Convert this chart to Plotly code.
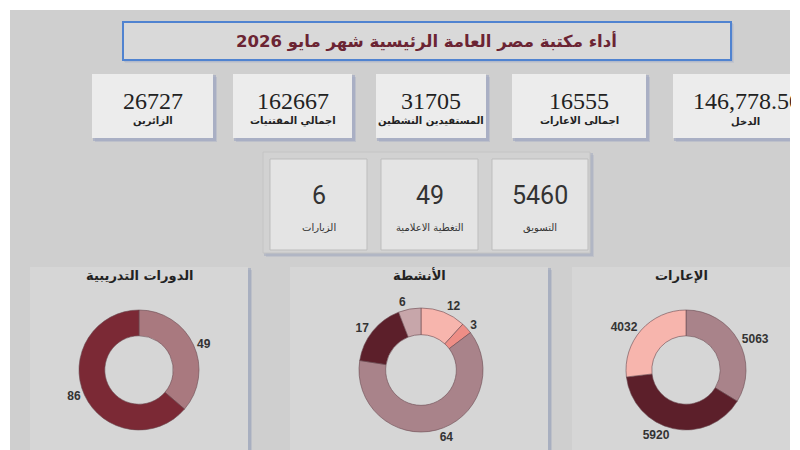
import plotly.graph_objects as go

# ---------------- data ----------------
title_text = "أداء مكتبة مصر العامة الرئيسية شهر مايو 2026"

kpi_labels = ["الزائرين", "اجمالي المقتنيات", "المستفيدين النشطين", "اجمالى الاعارات", "الدخل"]
kpi_values = [26727, 162667, 31705, 16555, 146778.50]

kpi2_labels = ["الزيارات", "التغطية الاعلامية", "التسويق"]
kpi2_values = [6, 49, 5460]

training_title = "الدورات التدريبية"
training_values = [49, 86]

activities_title = "الأنشطة"
activities_values = [12, 3, 64, 17, 6]

loans_title = "الإعارات"
loans_values = [5063, 5920, 4032]

# ---------------- helpers ----------------
W, H = 800, 450


def X(px):
    return px / W


def Y(py):
    return 1 - py / H


shapes = []
annotations = []


def rect(x0, y0, x1, y1, fill, line_color=None, line_width=0, opacity=1, layer="below"):
    shapes.append(dict(type="rect", xref="paper", yref="paper",
                       x0=X(x0), x1=X(x1), y0=Y(y1), y1=Y(y0),
                       fillcolor=fill, opacity=opacity, layer=layer,
                       line=dict(color=line_color or fill, width=line_width)))


def shadow_box(x0, y0, x1, y1, fill, line_color=None, line_width=0, sh="#9aa3bb", off=3):
    rect(x0 + off, y0 + off, x1 + off + 1, y1 + off + 1, sh, opacity=0.35)
    rect(x0 + 1, y0 + 1, x1 + off, y1 + off, sh, opacity=0.6)
    rect(x0, y0, x1, y1, fill, line_color, line_width)


def text(px, py, s, size, color="#222", family="Arial", bold=False, **kw):
    if bold:
        s = "<b>" + s + "</b>"
    annotations.append(dict(xref="paper", yref="paper", x=X(px), y=Y(py), text=s,
                            showarrow=False, font=dict(size=size, color=color, family=family),
                            xanchor=kw.pop("xanchor", "center"), yanchor="middle", **kw))


# title box
shadow_box(123, 22, 731, 60, "#d9d9d9", "#5083d0", 2, sh="#a8b2c8", off=2)
text(427, 41, title_text, 16.5, color="#6b2433", family="DejaVu Sans", bold=True)

# KPI row 1
kpi_boxes = [(92, 213), (233, 352), (376, 486), (512, 646), (673, 820)]
for (x0, x1), lab, val in zip(kpi_boxes, kpi_labels, kpi_values):
    shadow_box(x0, 74, x1, 138, "#ececec", sh="#9ba4bf", off=3)
    cx = (x0 + x1) / 2
    if isinstance(val, float):
        s = f"{val:,.2f}"
        annotations.append(dict(xref="paper", yref="paper", x=X(692), y=Y(101), text=s,
                                showarrow=False, width=98, align="left", borderpad=0,
                                font=dict(size=24, color="#222", family="Liberation Serif"),
                                xanchor="left", yanchor="middle"))
        text(745, 121, lab, 10, color="#222", family="DejaVu Sans", bold=True)
    else:
        text(cx, 101, str(val), 24, color="#222", family="Liberation Serif")
        text(cx, 121, lab, 10, color="#222", family="DejaVu Sans", bold=True)

# KPI row 2
shadow_box(263, 152, 590, 253, "#d2d2d2", "#c4c4c4", 1, sh="#a7adbf", off=3)
kpi2_boxes = [(270, 367), (381, 478), (492, 588)]
for (x0, x1), lab, val in zip(kpi2_boxes, kpi2_labels, kpi2_values):
    rect(x0, 159, x1, 250, "#e4e4e4", "#bdbdbd", 1)
    cx = (x0 + x1) / 2
    text(cx, 196, str(val), 25, color="#333", family="Roboto")
    text(cx, 227, lab, 10, color="#333", family="DejaVu Sans")

# chart panels
panels = [(30, 248, training_title), (290, 548, activities_title), (572, 790, loans_title)]
for x0, x1, t in panels:
    shadow_box(x0, 267, x1, H + 20, "#d6d6d6", sh="#9aa3bb", off=3)
    text((x0 + x1) / 2, 275, t, 13, color="#222", family="DejaVu Sans", bold=True)

# white photo border: top, left, right
rect(0, 0, W, 10, "#ffffff")
rect(0, 0, 10, H + 20, "#ffffff")
rect(790, 0, W + 10, H + 20, "#ffffff")

# ---------------- pies ----------------
line = dict(color="#6a4a50", width=0.6)
fig = go.Figure()


def donut(values, colors, cx, cy, r):
    fig.add_trace(go.Pie(
        values=values, labels=[str(i) for i in range(len(values))],
        sort=False, direction="clockwise", rotation=0, hole=0.57,
        marker=dict(colors=colors, line=line),
        textinfo="value", textposition="outside",
        texttemplate="<b>%{value}</b>",
        textfont=dict(size=12, color="#333", family="Liberation Sans"),
        showlegend=False, hoverinfo="value",
        domain=dict(x=[X(cx - r), X(cx + r)], y=[Y(cy + r), Y(cy - r)]),
    ))


donut(training_values, ["#a9797f", "#7b2935"], 139, 370, 60)
donut(activities_values, ["#f7b5ad", "#ee8e86", "#a9838a", "#5c1f2a", "#c7a6aa"], 421, 370, 62)
donut(loans_values, ["#a9838a", "#5c1f2a", "#f7b5ad"], 686, 370, 60)

fig.update_layout(
    width=W, height=H, margin=dict(l=0, r=0, t=0, b=0),
    paper_bgcolor="#cfcfcf", plot_bgcolor="#cfcfcf",
    shapes=shapes, annotations=annotations,
)

fig.write_html("out.html")
